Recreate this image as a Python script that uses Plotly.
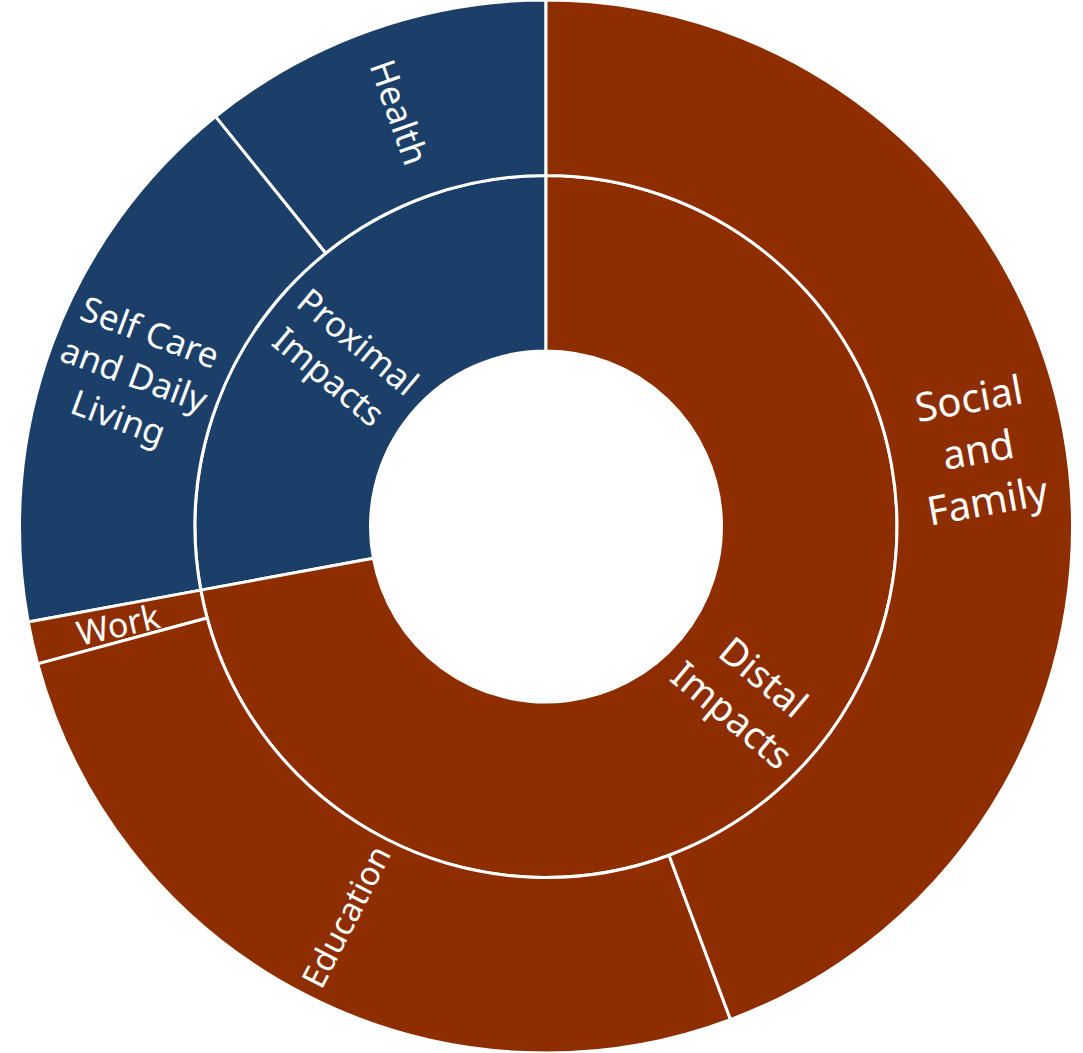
import math
import plotly.graph_objects as go

# Hierarchy: root (blank centre) -> impact group -> life domain
ids = ["root", "Proximal", "Distal",
       "Health", "SelfCare", "Work", "Education", "Social"]
labels = ["", "Proximal<br>Impacts", "Distal<br>Impacts",
          "Health", "Self Care<br>and Daily<br>Living", "Work", "Education",
          "Social<br>and<br>Family"]
parents = ["", "root", "root",
           "Proximal", "Proximal", "Distal", "Distal", "Distal"]
# Share of impacts (%) per domain
domain_values = {"Health": 10.8, "SelfCare": 17.1, "Work": 1.3,
                 "Education": 26.5, "Social": 44.3}

proximal_total = domain_values["Health"] + domain_values["SelfCare"]
distal_total = domain_values["Work"] + domain_values["Education"] + domain_values["Social"]
grand_total = proximal_total + distal_total
values = [grand_total, proximal_total, distal_total,
          domain_values["Health"], domain_values["SelfCare"], domain_values["Work"],
          domain_values["Education"], domain_values["Social"]]

NAVY = "#1B3F69"
RUST = "#8E2E00"
colors = ["rgba(255,255,255,0)", NAVY, RUST, NAVY, NAVY, RUST, RUST, RUST]
label_sizes = {"Proximal": 35, "Distal": 38, "Health": 35, "SelfCare": 35,
               "Work": 34, "Education": 33, "Social": 40}

W, H = 1083, 1053
DOM_X = [0.0083, 1.0]

fig = go.Figure(go.Sunburst(
    ids=ids,
    labels=labels,
    parents=parents,
    values=values,
    branchvalues="total",
    sort=False,
    rotation=90,
    marker=dict(colors=colors, line=dict(color="white", width=3)),
    leaf=dict(opacity=1),
    textinfo="none",
    hoverinfo="label+value",
    domain=dict(x=DOM_X, y=[0.0, 1.0]),
))

# Radial labels placed at each sector's mid-angle (counter-clockwise from 12 o'clock)
cx = (DOM_X[0] + DOM_X[1]) / 2 * W
cy = H / 2
R = min((DOM_X[1] - DOM_X[0]) * W, H) / 2
ring_radius = {1: R * 0.5, 2: R * 5 / 6}

def add_labels(node_ids, ring, start=0.0):
    cum = start
    for nid in node_ids:
        i = ids.index(nid)
        v = values[i]
        theta = math.radians((cum + v / 2) / grand_total * 360)
        cum += v
        r = ring_radius[ring]
        px = cx - r * math.sin(theta)
        py = cy - r * math.cos(theta)
        ang = math.degrees(math.atan2(math.cos(theta), math.sin(theta)))
        if ang > 90:
            ang -= 180
        elif ang < -90:
            ang += 180
        fig.add_annotation(
            x=px / W, y=1 - py / H, xref="paper", yref="paper",
            text=labels[i], showarrow=False, textangle=ang,
            xanchor="center", yanchor="middle", align="center",
            font=dict(family="Noto Sans", color="white", size=label_sizes[nid]),
        )

add_labels(["Proximal", "Distal"], 1)
add_labels(["Health", "SelfCare", "Work", "Education", "Social"], 2)

fig.update_layout(
    width=W, height=H,
    margin=dict(l=0, r=0, t=0, b=0),
    paper_bgcolor="white",
    showlegend=False,
)

fig.write_html("out.html")
